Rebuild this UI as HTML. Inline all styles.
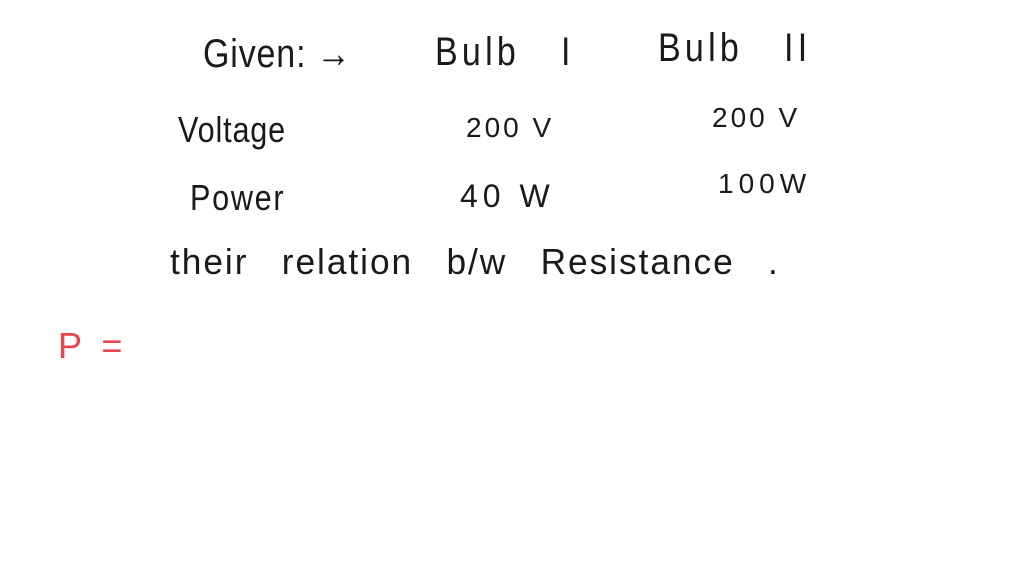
<!DOCTYPE html>
<html><head><meta charset="utf-8"><style>
html,body{margin:0;padding:0;}
body{width:1024px;height:576px;background:#fff;position:relative;overflow:hidden;font-family:"Liberation Sans",sans-serif;color:#1a1a1a;}
.t{position:absolute;white-space:nowrap;font-weight:normal;line-height:1;transform-origin:left top;}
</style></head><body>
<div class="t" style="left:203px;top:34px;font-size:40px;letter-spacing:1px;transform:scaleX(0.85)">Given: →</div>
<div class="t" style="left:435px;top:32px;font-size:40px;letter-spacing:5px;word-spacing:8px;transform:scaleX(0.85)">Bulb&nbsp;&nbsp;I</div>
<div class="t" style="left:658px;top:28px;font-size:40px;letter-spacing:5px;word-spacing:8px;transform:scaleX(0.85)">Bulb&nbsp;&nbsp;II</div>
<div class="t" style="left:178px;top:112px;font-size:36px;letter-spacing:1px;transform:scaleX(0.85)">Voltage</div>
<div class="t" style="left:466px;top:114px;font-size:28px;letter-spacing:3px;">200 V</div>
<div class="t" style="left:712px;top:104px;font-size:28px;letter-spacing:3px;">200 V</div>
<div class="t" style="left:190px;top:180px;font-size:36px;letter-spacing:2px;transform:scaleX(0.85)">Power</div>
<div class="t" style="left:460px;top:180px;font-size:32px;letter-spacing:5px;">40 W</div>
<div class="t" style="left:718px;top:170px;font-size:28px;letter-spacing:5px;">100W</div>
<div class="t" style="left:170px;top:244px;font-size:36px;letter-spacing:2px;word-spacing:22px;transform:scaleX(0.98)">their relation b/w Resistance .</div>
<div class="t" style="left:58px;top:328px;font-size:36px;color:#e8454f;word-spacing:10px;">P =</div>
</body></html>
